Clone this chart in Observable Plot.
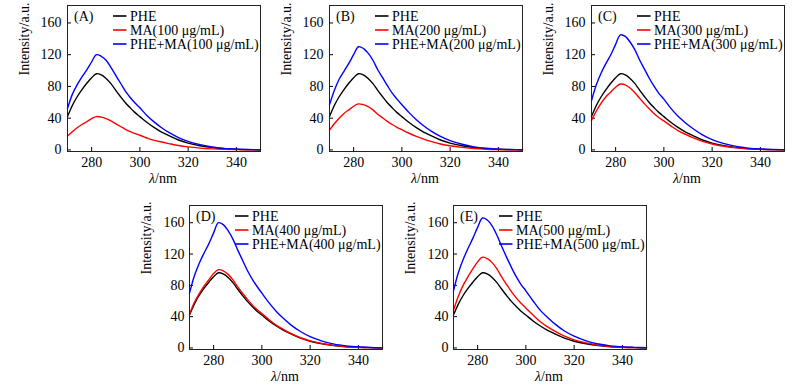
<!DOCTYPE html>
<html><head><meta charset="utf-8">
<script src="https://cdn.jsdelivr.net/npm/d3@7"></script>
<script src="https://cdn.jsdelivr.net/npm/@observablehq/plot@0.6"></script>
<style>
body{margin:0;background:#fff;}
#chart{position:relative;width:800px;height:392px;font-family:"Liberation Serif","Times New Roman",serif;}
.panel{position:absolute;}
</style></head><body><div id="chart"></div>
<script>
// ---- data ----
const wavelength = [270,272,274,276,278,280,282,284,286,288,290,292,294,296,298,300,303,306,309,312,316,320,325,330,335,340,345,350];
const xTicks = [280,300,320,340];
const yTicks = [0,40,80,120,160];
const panelTags = ["(A)","(B)","(C)","(D)","(E)"];
const concentrations = ["100","200","300","400","500"];

const phe    = [42,56,67,76,84,91,96,94.5,90,83.5,75,67,59.5,53,47,42,34.5,28,22.5,18,12.5,8.6,5.3,2.9,1.5,0.8,0.4,0.2];

const ma100  = [17.5,23,28,32,35.5,39.5,42,41.4,39.5,36.5,33,29.5,26,23,20.5,18.5,15,12,10,8,5.5,3.8,2.3,1.3,0.7,0.35,0.2,0.1];
const ma200  = [25,33,40,46,50.5,55,58,57,54.5,50.5,45,40.5,36,32,28.5,25.5,21,17,13.6,10.7,7.5,5.2,3.2,1.7,0.9,0.5,0.25,0.1];
const ma300  = [37,49,59,67,73,79,83,82,78,72,65,58,51.5,45.5,40.5,36.5,30,24,19.5,15.4,10.8,7.5,4.6,2.5,1.3,0.7,0.35,0.15];
const ma400  = [43,58,69,79,87,95,100,98.5,94,87,78,70,62,55,49,44,36,29,23.5,18.5,13,9,5.5,3,1.6,0.8,0.4,0.2];
const ma500  = [48,66,80,91,101,110,116,114,109,101,90.5,81,72,64,57,51,42,33.5,27,21.5,15,10.4,6.4,3.5,1.9,0.9,0.45,0.2];

const mix100 = [52,70,82,92,101,111,120,118,113,104,94,84,74,66,59,53,43,35,28,22,15.6,10.8,6.6,3.6,1.9,1,0.5,0.25];
const mix200 = [57,75,89,99,109,120,130,128,122,113,101,91,81,71.5,64,57,47,38,30.5,24,17,11.7,7.2,3.9,2.1,1,0.5,0.25];
const mix300 = [62,82,97,109,120,133,145,143,136,126,113,101.5,90,80,71,64,52,42,34,27,19,13,8,4.4,2.3,1.2,0.6,0.3];
const mix400 = [70,92,108,121,133,147,160,157.5,150,139,125,112,99,88,78.5,70,57.5,46.5,37.5,29.5,21,14.4,8.8,4.8,2.6,1.3,0.6,0.3];
const mix500 = [73,96,113,127,140,154,166,163.5,156,144,129.5,116,103,91,81,73,60,48,39,30.7,21.6,15,9,5,2.7,1.3,0.7,0.3];

const maSeries  = [ma100, ma200, ma300, ma400, ma500];
const mixSeries = [mix100, mix200, mix300, mix400, mix500];

// ---- layout (style only) ----
const layout = [
  {left:0,   top:0,   height:195, marginBottom:44, pad:6},
  {left:262, top:0,   height:195, marginBottom:44, pad:6},
  {left:524, top:0,   height:195, marginBottom:44, pad:6},
  {left:122, top:200, height:192, marginBottom:43, pad:5},
  {left:386, top:200, height:192, marginBottom:43, pad:5}
];
const W = 262, ML = 67, MR = 2, MT = 5;
const FONT = "'Liberation Serif','Times New Roman',serif";
const colors = {phe:"#000000", ma:"#ff0000", mix:"#0000ff"};

const chart = document.getElementById("chart");

layout.forEach((L, i) => {
  const fh = L.height - MT - L.marginBottom;
  const fw = W - ML - MR;
  const svg = Plot.plot({
    width: W, height: L.height,
    marginLeft: ML, marginRight: MR, marginTop: MT, marginBottom: L.marginBottom,
    style: {fontFamily: FONT, fontSize: "14px", background: "white", color: "#000", overflow: "visible"},
    x: {domain: [270, 350]},
    y: {domain: [-2, 182]},
    marks: [
      Plot.axisX({ticks: xTicks, tickSize: 0, tickPadding: 6, label: null, tickFormat: d => String(d), fontSize: 14}),
      Plot.axisY({ticks: yTicks, tickSize: 0, tickPadding: L.pad, label: null, tickFormat: d => String(d), fontSize: 14}),
      Plot.tickX(xTicks, {x: d => d, insetTop: fh - 4, stroke: "#000", strokeWidth: 1}),
      Plot.tickY(yTicks, {y: d => d, insetRight: fw - 4, stroke: "#000", strokeWidth: 1}),
      Plot.line(phe, {x: wavelength, y: phe, stroke: colors.phe, strokeWidth: 1.4, curve: "catmull-rom"}),
      Plot.line(maSeries[i], {x: wavelength, y: maSeries[i], stroke: colors.ma, strokeWidth: 1.4, curve: "catmull-rom"}),
      Plot.line(mixSeries[i], {x: wavelength, y: mixSeries[i], stroke: colors.mix, strokeWidth: 1.4, curve: "catmull-rom"}),
      Plot.frame({stroke: "#222", strokeWidth: 1}),
      Plot.text(["Intensity/a.u."], {frameAnchor: "left", dx: -43, dy: -3, rotate: -90, fontSize: 14, fill: "#000"}),
      Plot.text(["λ"], {frameAnchor: "bottom", dx: -9, dy: 31, textAnchor: "end", fontStyle: "italic", fontSize: 14, fill: "#000"}),
      Plot.text(["/nm"], {frameAnchor: "bottom", dx: -9, dy: 31, textAnchor: "start", fontSize: 14, fill: "#000"})
    ]
  });
  // legend overlay
  const s = d3.select(svg);
  const g = s.append("g").attr("font-family", FONT).attr("font-size", 14).attr("fill", "#000")
    .attr("text-anchor", "start");
  g.append("text").attr("x", ML + 7).attr("y", MT + 11).attr("dy", "0.35em").attr("text-anchor", "start").text(panelTags[i]);
  const entries = [
    {label: "PHE", color: colors.phe},
    {label: `MA(${concentrations[i]} μg/mL)`, color: colors.ma},
    {label: `PHE+MA(${concentrations[i]} μg/mL)`, color: colors.mix}
  ];
  entries.forEach((e, k) => {
    const y = MT + 11 + k * 14;
    g.append("line").attr("x1", ML + 46).attr("x2", ML + 59.5).attr("y1", y).attr("y2", y)
      .attr("stroke", e.color).attr("stroke-width", 1.6);
    g.append("text").attr("x", ML + 63).attr("y", y).attr("dy", "0.35em").attr("text-anchor", "start").text(e.label);
  });
  const div = document.createElement("div");
  div.className = "panel";
  div.style.left = L.left + "px";
  div.style.top = L.top + "px";
  div.appendChild(svg);
  chart.appendChild(div);
});
</script>
</body></html>
